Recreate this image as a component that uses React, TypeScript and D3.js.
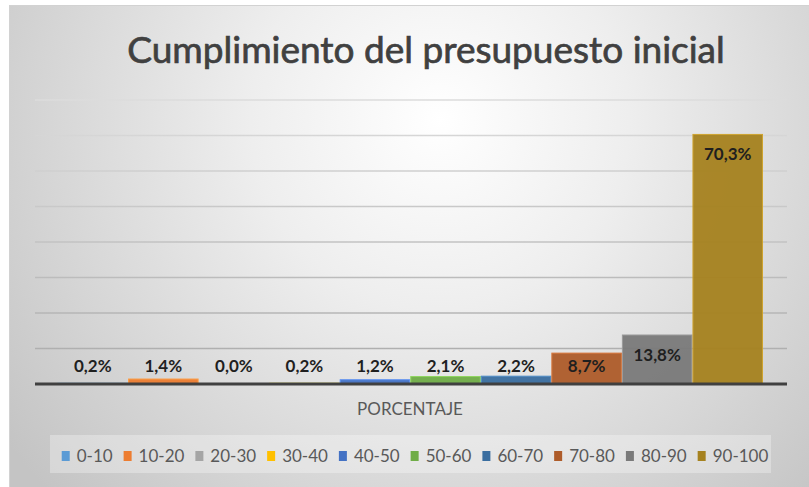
import React from "react";
import * as d3 from "d3";

const series = ["0-10", "10-20", "20-30", "30-40", "40-50", "50-60", "60-70", "70-80", "80-90", "90-100"];
const values = [0.2, 1.4, 0.0, 0.2, 1.2, 2.1, 2.2, 8.7, 13.8, 70.3];
const labels = ["0,2%", "1,4%", "0,0%", "0,2%", "1,2%", "2,1%", "2,2%", "8,7%", "13,8%", "70,3%"];
const colors = ["#5B9BD5", "#ED7D31", "#A5A5A5", "#FFC000", "#4472C4", "#70AD47", "#3A6EA0", "#AE5C2A", "#7A7A7A", "#A6821F"];
const yTicks = [10, 20, 30, 40, 50, 60, 70, 80];
const title = "Cumplimiento del presupuesto inicial";
const categoryTitle = "PORCENTAJE";

const W = 809;
const H = 487;
const FONT = "Lato, 'Open Sans', sans-serif";

function measure(text: string, font: string): number {
  const c = document.createElement("canvas");
  const ctx = c.getContext("2d");
  if (!ctx) return text.length * 9;
  ctx.font = font;
  return ctx.measureText(text).width;
}

export default function App() {
  const plotLeft = 35;
  const plotRight = 787;
  const axisY = 384;
  const y = d3.scaleLinear().domain([0, 80]).range([axisY, 100]);
  const x = d3.scaleBand<string>().domain(series).range([57.5, 763]).paddingInner(0);

  const legendFontSize = 17;
  const legendFont = `${legendFontSize}px Lato`;
  const markerW = 8;
  const markerGap = 7;
  const itemGap = 11;
  const widths = series.map((s) => markerW + markerGap + measure(s, legendFont));
  const totalW = d3.sum(widths) + itemGap * (series.length - 1);
  const legendCenter = 415;
  let cursor = legendCenter - totalW / 2;
  const legendItems = series.map((s, i) => {
    const x0 = cursor;
    cursor += widths[i] + itemGap;
    return { s, x0, color: colors[i] };
  });

  return (
    <svg
      width={W}
      height={H}
      style={{ position: "absolute", left: 0, top: 0, display: "block" }}
      xmlns="http://www.w3.org/2000/svg"
    >
      <defs>
        <radialGradient id="bg" gradientUnits="userSpaceOnUse" cx={440} cy={120} r={540}>
          <stop offset="0" stopColor="#ffffff" />
          <stop offset="0.35" stopColor="#eeeeee" />
          <stop offset="1" stopColor="#c4c4c4" />
        </radialGradient>
        <linearGradient id="grid" gradientUnits="userSpaceOnUse" x1={0} y1={100} x2={0} y2={384}>
          <stop offset="0" stopColor="#dcdcdc" />
          <stop offset="1" stopColor="#a9a9a9" />
        </linearGradient>
      </defs>
      <rect x={0} y={0} width={W} height={H} fill="#ffffff" />
      <rect x={9.5} y={5.5} width={W} height={H} fill="url(#bg)" stroke="#d2d2d2" strokeWidth={1} />

      <text
        x={426}
        y={63}
        textAnchor="middle"
        fontFamily={FONT}
        fontSize={37}
        fill="#404040"
        stroke="#404040"
        strokeWidth={0.7}
      >
        {title}
      </text>

      {yTicks.map((t) => (
        <line
          key={t}
          x1={plotLeft}
          x2={plotRight}
          y1={y(t)}
          y2={y(t)}
          stroke="url(#grid)"
          strokeWidth={1.5}
        />
      ))}

      {series.map((s, i) => {
        const top = y(values[i]);
        return (
          <rect
            key={s}
            x={(x(s) as number) + 0.5}
            y={top}
            width={x.bandwidth() - 1}
            height={Math.max(axisY - top, 0)}
            fill={colors[i]}
            stroke={d3.color(colors[i])!.brighter(0.6).formatHex()}
            strokeWidth={1}
            opacity={0.95}
          />
        );
      })}

      <line x1={plotLeft} x2={plotRight} y1={axisY} y2={axisY} stroke="#404040" strokeWidth={3} />

      {series.map((s, i) => {
        const cy = Math.min(y(values[i]) + 20, axisY - 18);
        return (
          <text
            key={s}
            x={(x(s) as number) + x.bandwidth() / 2}
            y={cy}
            dy="0.35em"
            textAnchor="middle"
            fontFamily={FONT}
            fontWeight={700}
            fontSize={17}
            fill="#1f1f1f"
          >
            {labels[i]}
          </text>
        );
      })}

      <text
        x={410}
        y={409}
        dy="0.35em"
        textAnchor="middle"
        fontFamily={FONT}
        fontSize={17}
        fill="#595959"
      >
        {categoryTitle}
      </text>

      <rect x={50} y={435} width={721} height={38} fill="#ffffff" opacity={0.3} />
      {legendItems.map((it) => (
        <g key={it.s}>
          <rect x={it.x0} y={451} width={markerW} height={10} fill={it.color} />
          <text
            x={it.x0 + markerW + markerGap}
            y={456}
            dy="0.35em"
            fontFamily={FONT}
            fontSize={legendFontSize}
            fill="#595959"
          >
            {it.s}
          </text>
        </g>
      ))}
    </svg>
  );
}
